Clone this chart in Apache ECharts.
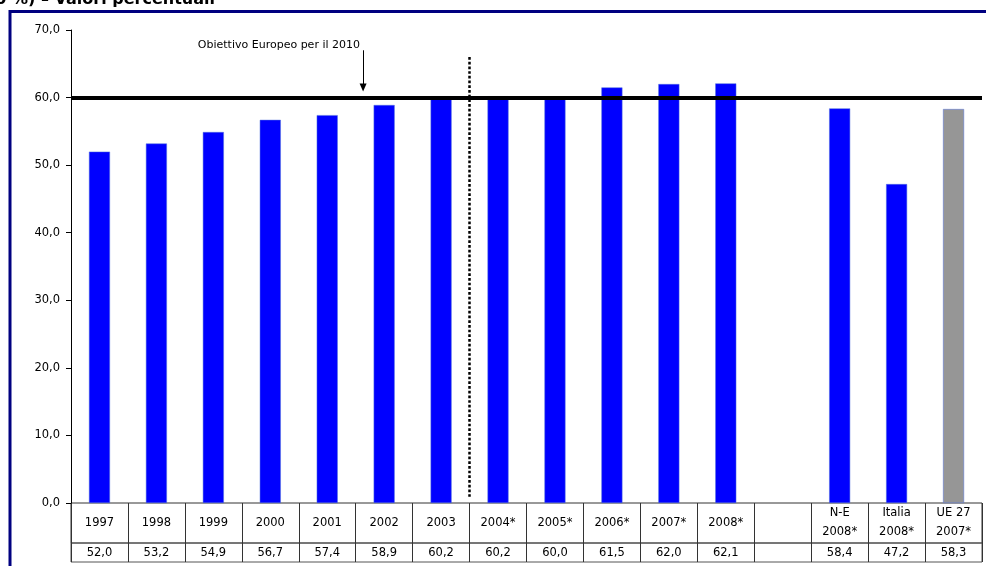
<!DOCTYPE html>
<html>
<head>
<meta charset="utf-8">
<script src="https://cdn.jsdelivr.net/npm/echarts@6/dist/echarts.min.js"></script>
<style>
  html, body { margin: 0; padding: 0; background: #fff; }
  #chart { width: 986px; height: 566px; }
</style>
</head>
<body>
<div id="chart"></div>
<script>
// Categories along the x axis (the empty one is a spacer column)
const categories = ['1997', '1998', '1999', '2000', '2001', '2002', '2003',
  '2004*', '2005*', '2006*', '2007*', '2008*', '',
  'N-E\n2008*', 'Italia\n2008*', 'UE 27\n2007*'];
// Percentage values per category
const values = [52.0, 53.2, 54.9, 56.7, 57.4, 58.9, 60.2,
  60.2, 60.0, 61.5, 62.0, 62.1, null,
  58.4, 47.2, 58.3];
// Category drawn in grey as the European reference
const referenceCategory = 'UE 27\n2007*';
// European target level
const targetValue = 60;
const targetLabel = 'Obiettivo Europeo per il 2010';
// Y axis ticks
const yMin = 0, yMax = 70, yStep = 10;

const fmt = v => (v == null ? '' : v.toFixed(1).replace('.', ','));
const FONT = 'DejaVu Sans';

const chart = echarts.init(document.getElementById('chart'), null, { renderer: 'canvas' });

const gridLeft = 71, gridRight = 4;

chart.setOption({
  animation: false,
  backgroundColor: '#ffffff',
  textStyle: { fontFamily: FONT, color: '#000' },
  grid: [
    { left: gridLeft, right: gridRight, top: 30, height: 473 },
    { left: gridLeft, right: gridRight, top: 503, height: 40, show: true, borderColor: '#333', borderWidth: 1 },
    { left: gridLeft, right: gridRight, top: 543, height: 19, show: true, borderColor: '#555', borderWidth: 1 }
  ],
  xAxis: [
    { type: 'category', gridIndex: 0, data: categories, show: false },
    {
      type: 'category', gridIndex: 1, data: categories, position: 'top',
      axisLine: { show: false }, axisTick: { show: false },
      splitLine: { show: true, interval: 0, lineStyle: { color: '#333', width: 1 } },
      axisLabel: {
        inside: true, interval: 0, margin: 20, verticalAlign: 'middle',
        fontFamily: FONT, fontSize: 11.5, color: '#000', lineHeight: 19
      }
    },
    {
      type: 'category', gridIndex: 2, data: categories, position: 'top',
      axisLine: { show: false }, axisTick: { show: false },
      splitLine: { show: true, interval: 0, lineStyle: { color: '#333', width: 1 } },
      axisLabel: {
        inside: true, interval: 0, margin: 10, verticalAlign: 'middle',
        fontFamily: FONT, fontSize: 11.5, color: '#000',
        formatter: (name, idx) => fmt(values[idx])
      }
    },
    // helper numeric axis over the main grid, for annotation lines between bars
    { type: 'value', gridIndex: 0, min: -0.5, max: categories.length - 0.5, show: false }
  ],
  yAxis: [
    {
      type: 'value', gridIndex: 0, min: yMin, max: yMax, interval: yStep,
      axisLine: { show: true, onZero: false, lineStyle: { color: '#000', width: 1 } },
      axisTick: { show: true, length: 5, lineStyle: { color: '#000' } },
      splitLine: { show: false },
      axisLabel: { margin: 11, fontFamily: FONT, fontSize: 11.5, color: '#000', formatter: v => fmt(v) }
    },
    { type: 'value', gridIndex: 1, show: false },
    { type: 'value', gridIndex: 2, show: false }
  ],
  series: [
    {
      type: 'bar',
      xAxisIndex: 0, yAxisIndex: 0,
      data: values,
      barWidth: 21,
      itemStyle: {
        color: p => (p.name === referenceCategory ? '#969696' : '#0000ff'),
        borderColor: p => (p.name === referenceCategory ? '#a8a8a8' : '#3a3aff'),
        borderWidth: 0.5
      },
      markLine: {
        silent: true,
        symbol: 'none',
        label: { show: false },
        lineStyle: { color: '#000', width: 4, type: 'solid' },
        data: [{ yAxis: targetValue }]
      },
      z: 2
    },
    {
      // dotted divider between 2003 and 2004*, and the target arrow
      type: 'line',
      xAxisIndex: 3, yAxisIndex: 0,
      data: [],
      markLine: {
        silent: true,
        label: { show: false },
        data: [
          [
            { coord: [6.5, 66], symbol: 'none', lineStyle: { color: '#000', width: 2.5, type: [2.7, 2] } },
            { coord: [6.5, 0.9], symbol: 'none' }
          ],
          [
            { coord: [4.63, 67], symbol: 'none', lineStyle: { color: '#000', width: 1, type: 'solid' } },
            { coord: [4.63, 61.5], symbol: 'triangle', symbolSize: [7, 8], symbolRotate: 180 }
          ]
        ]
      },
      z: 3
    }
  ],
  graphic: [
    {
      type: 'rect', silent: true, z: 10,
      shape: { x: 10, y: 11.5, width: 1000, height: 620 },
      style: { fill: 'none', stroke: '#000080', lineWidth: 3 }
    },
    {
      type: 'text', silent: true,
      x: 215, y: 8,
      style: {
        text: 'Tasso di occupazione (15-64 anni, 1997-2010 %) – Valori percentuali',
        align: 'right', verticalAlign: 'bottom',
        font: 'bold 16px "DejaVu Sans"', fill: '#000'
      }
    },
    {
      type: 'text', silent: true,
      x: 360, y: 45,
      style: {
        text: targetLabel,
        align: 'right', verticalAlign: 'middle',
        font: '11px "DejaVu Sans"', fill: '#000'
      }
    }
  ]
});
</script>
</body>
</html>
